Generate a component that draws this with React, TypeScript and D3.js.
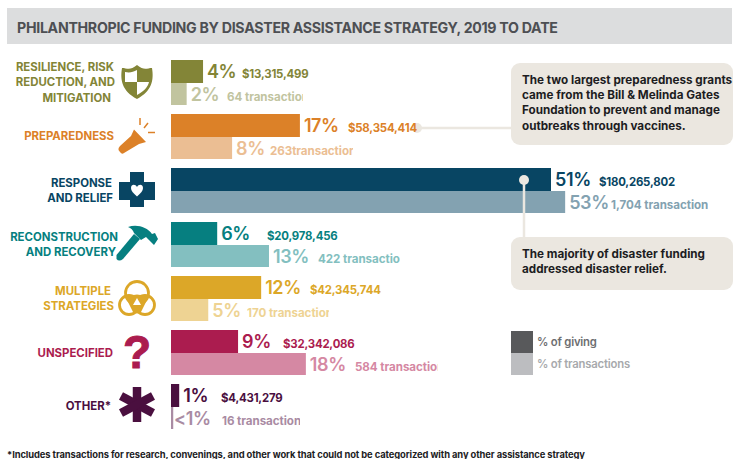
import React from "react";
import * as d3 from "d3";

const categories = [
  ["RESILIENCE, RISK", "REDUCTION, AND", "MITIGATION"],
  ["PREPAREDNESS"],
  ["RESPONSE", "AND RELIEF"],
  ["RECONSTRUCTION", "AND RECOVERY"],
  ["MULTIPLE", "STRATEGIES"],
  ["UNSPECIFIED"],
  ["OTHER*"],
];
const givingShare = [4.3, 17.3, 51, 6.2, 12.1, 9, 1.1];
const transactionShare = [2.1, 8.2, 52.9, 13.15, 5, 18.1, 0.3];
const givingLabels = ["4%", "17%", "51%", "6%", "12%", "9%", "1%"];
const transactionLabels = ["2%", "8%", "53%", "13%", "5%", "18%", "<1%"];
const dollars = ["$13,315,499", "$58,354,414", "$180,265,802", "$20,978,456", "$42,345,744", "$32,342,086", "$4,431,279"];
const transactionCounts = ["64 transactions", "263transactions", "1,704 transactions", "422 transactions", "170 transactions", "584 transactions", "16 transactions"];

const darkColors = ["#838537", "#dc8128", "#084563", "#067f80", "#dca728", "#ab1c4f", "#4a0f3f"];
const lightColors = ["#c1c49f", "#ebbe93", "#83a2b1", "#83bfc0", "#eed393", "#d588a3", "#a98ba3"];

// layout (px)
const amountX = [242, 348, 599, 267, 310, 283, 221];
const countX = [227, 270, 611, 318, 247, 355, 222];
const countClip = [303, 353, 708, 400, 329, 438, 300];
const labelRight = [[114, 115, 111], [114], [112, 113], [118, 116], [111, 114], [113], [111]];
const labelY = [[67, 82, 98], [136], [183, 198], [237, 252], [291, 306], [353], [406]];

const FONT = "Inter, 'Open Sans', sans-serif";
const x = d3.scaleLinear().domain([0, 51]).range([171, 551]);

function Icon({ i, c }: { i: number; c: string }) {
  if (i === 0)
    return (
      <g>
        <path d="M137 65 C130 71 127 68 122 68 C120 80 122 91 137 99 C152 91 154 80 152 68 C147 68 144 71 137 65Z" fill={c} />
        <path d="M137 70 V82 H125 C125 77 125 75 125 72 C130 73 133 72 137 70Z" fill="#fff" />
        <path d="M137 82 H149 C148 87 144 91 137 95Z" fill="#fff" />
      </g>
    );
  if (i === 1)
    return (
      <g>
        <path d="M134 129.5 L146 142 L139 144 L124 153 Q122 155 120 152 L118.5 150 Q118 148 120 146 L131 136Z" fill={c} />
        <g stroke={c} strokeWidth={1.5} fill="none">
          <path d="M140 118 V125" />
          <path d="M148 123 L144 128" />
          <path d="M148 132.5 H155" />
        </g>
      </g>
    );
  if (i === 2)
    return (
      <g>
        <path d="M130 172 H144 V182 H155 V200 H144 V207 H130 V200 H119 V182 H130Z" fill={c} />
        <path d="M137 196.5 C133 193 131 191 131 188 C131 184 135.5 184 137 187 C138.5 184 143 184 143 188 C143 191 141 193 137 196.5Z" fill="#fff" />
      </g>
    );
  if (i === 3)
    return (
      <g>
        <path d="M116.5 255 L134 234 L140 239 L123 259 Q119 262 116.5 259Z" fill={c} />
        <path d="M128 227 C137 224 147 227 152 234 L155 233 L158 239 L154 245 L149 240 L146 237 L141 240 L134 233 C133 230 131 228 128 227Z" fill={c} />
      </g>
    );
  if (i === 4)
    return (
      <g>
        <g fill="none" stroke={c} strokeWidth={2.8}>
          <circle cx={137} cy={293} r={11.5} />
          <circle cx={129} cy={305} r={9.5} />
          <circle cx={145} cy={305} r={9.5} />
        </g>
        <path d="M127 297 Q137 292 147 297 L147 300 L141 312 Q137 315 133 312 L127 300Z" fill={c} />
        <path d="M137 298 L141 305 H133Z" fill="#fff" />
      </g>
    );
  if (i === 5)
    return (
      <text x={137} y={368} textAnchor="middle" fontWeight={800} fontSize={46} fill={c} stroke={c} strokeWidth={1} style={{ fontFamily: "'Liberation Sans'" }}>?</text>
    );
  return (
    <g stroke={c} strokeWidth={8.5}>
      <path d="M137 387 V422" />
      <path d="M121 396 L153 413" />
      <path d="M153 396 L121 413" />
    </g>
  );
}

export default function App() {
  const h = 23;
  const step = 54;
  return (
    <svg width={733} height={459} style={{ position: "absolute", left: 0, top: 0, background: "#fff" }} fontFamily={FONT}>
      <defs>
        {countClip.map((c, i) => (
          <clipPath id={`clip${i}`} key={i}>
            <rect x={0} y={0} width={c} height={459} />
          </clipPath>
        ))}
      </defs>
      <rect x={7} y={8} width={725} height={36} fill="#dcddde" />
      <text x={17} y={33} fontSize={14.2} fontWeight={700} fill="#4d4f53" letterSpacing={-0.3}>
        PHILANTHROPIC FUNDING BY DISASTER ASSISTANCE STRATEGY, 2019 TO DATE
      </text>

      <line x1={414} y1={128} x2={515} y2={128} stroke="#ebe7e0" strokeWidth={2.5} />
      <circle cx={417} cy={128} r={5} fill="#ebe7e0" />

      {categories.map((lines, i) => {
        const top = 60 + i * step;
        const gw = x(givingShare[i]);
        const tw = x(transactionShare[i]);
        return (
          <g key={i}>
            {lines.map((t, j) => (
              <text key={j} x={labelRight[i][j]} y={labelY[i][j] + 4} textAnchor="end" fontSize={11.4} fontWeight={700} fill={darkColors[i]}>
                {t}
              </text>
            ))}
            <Icon i={i} c={darkColors[i]} />
            <rect x={171} y={top + 23} width={tw - 171} height={22} fill={lightColors[i]} />
            <rect x={171} y={top} width={gw - 171} height={h} fill={darkColors[i]} />
            <text x={gw + 4} y={top + 18} fontSize={18} fontWeight={600} fill={darkColors[i]} letterSpacing={-0.4}>
              {givingLabels[i]}
            </text>
            <text x={amountX[i]} y={top + 18} fontSize={11.4} fontWeight={700} fill={darkColors[i]} letterSpacing={-0.2}>
              {dollars[i]}
            </text>
            <text x={i === 6 ? 174 : tw + 4} y={top + 41} fontSize={18} fontWeight={600} fill={lightColors[i]} letterSpacing={-0.4}>
              {transactionLabels[i]}
            </text>
            <g clipPath={`url(#clip${i})`}>
              <text x={countX[i]} y={top + 41} fontSize={11.6} fontWeight={700} fill={lightColors[i]} letterSpacing={-0.05}>
                {transactionCounts[i]}
              </text>
            </g>
          </g>
        );
      })}

      <line x1={524} y1={180} x2={524} y2={240} stroke="#ebe7e0" strokeWidth={2.5} />
      <circle cx={524} cy={180} r={5} fill="#ebe7e0" />

      <rect x={511} y={63} width={222} height={82} rx={9} fill="#ebe7e0" />
      {["The two largest preparedness grants", "came from the Bill & Melinda Gates", "Foundation to prevent and manage", "outbreaks through vaccines."].map((t, i) => (
        <text key={i} x={522} y={84 + i * 15.2} fontSize={11.7} fontWeight={700} fill="#1d1d1f">{t}</text>
      ))}
      <rect x={511} y={237} width={222} height={53} rx={9} fill="#ebe7e0" />
      {["The majority of disaster funding", "addressed disaster relief."].map((t, i) => (
        <text key={i} x={522} y={258 + i * 15} fontSize={11.7} fontWeight={700} fill="#1d1d1f">{t}</text>
      ))}

      <rect x={511} y={331} width={22} height={22} fill="#58595b" />
      <rect x={511} y={353} width={22} height={22} fill="#bcbdc0" />
      <text x={537} y={346} fontSize={11.3} fontWeight={600} fill="#6d6e71" letterSpacing={-0.2}>% of giving</text>
      <text x={537} y={368} fontSize={11.3} fontWeight={600} fill="#a7a9ac" letterSpacing={-0.2}>% of transactions</text>

      <text x={7} y={458} fontSize={9.4} fontWeight={700} fill="#1d1d1f" letterSpacing={-0.1}>
        *Includes transactions for research, convenings, and other work that could not be categorized with any other assistance strategy
      </text>
    </svg>
  );
}
